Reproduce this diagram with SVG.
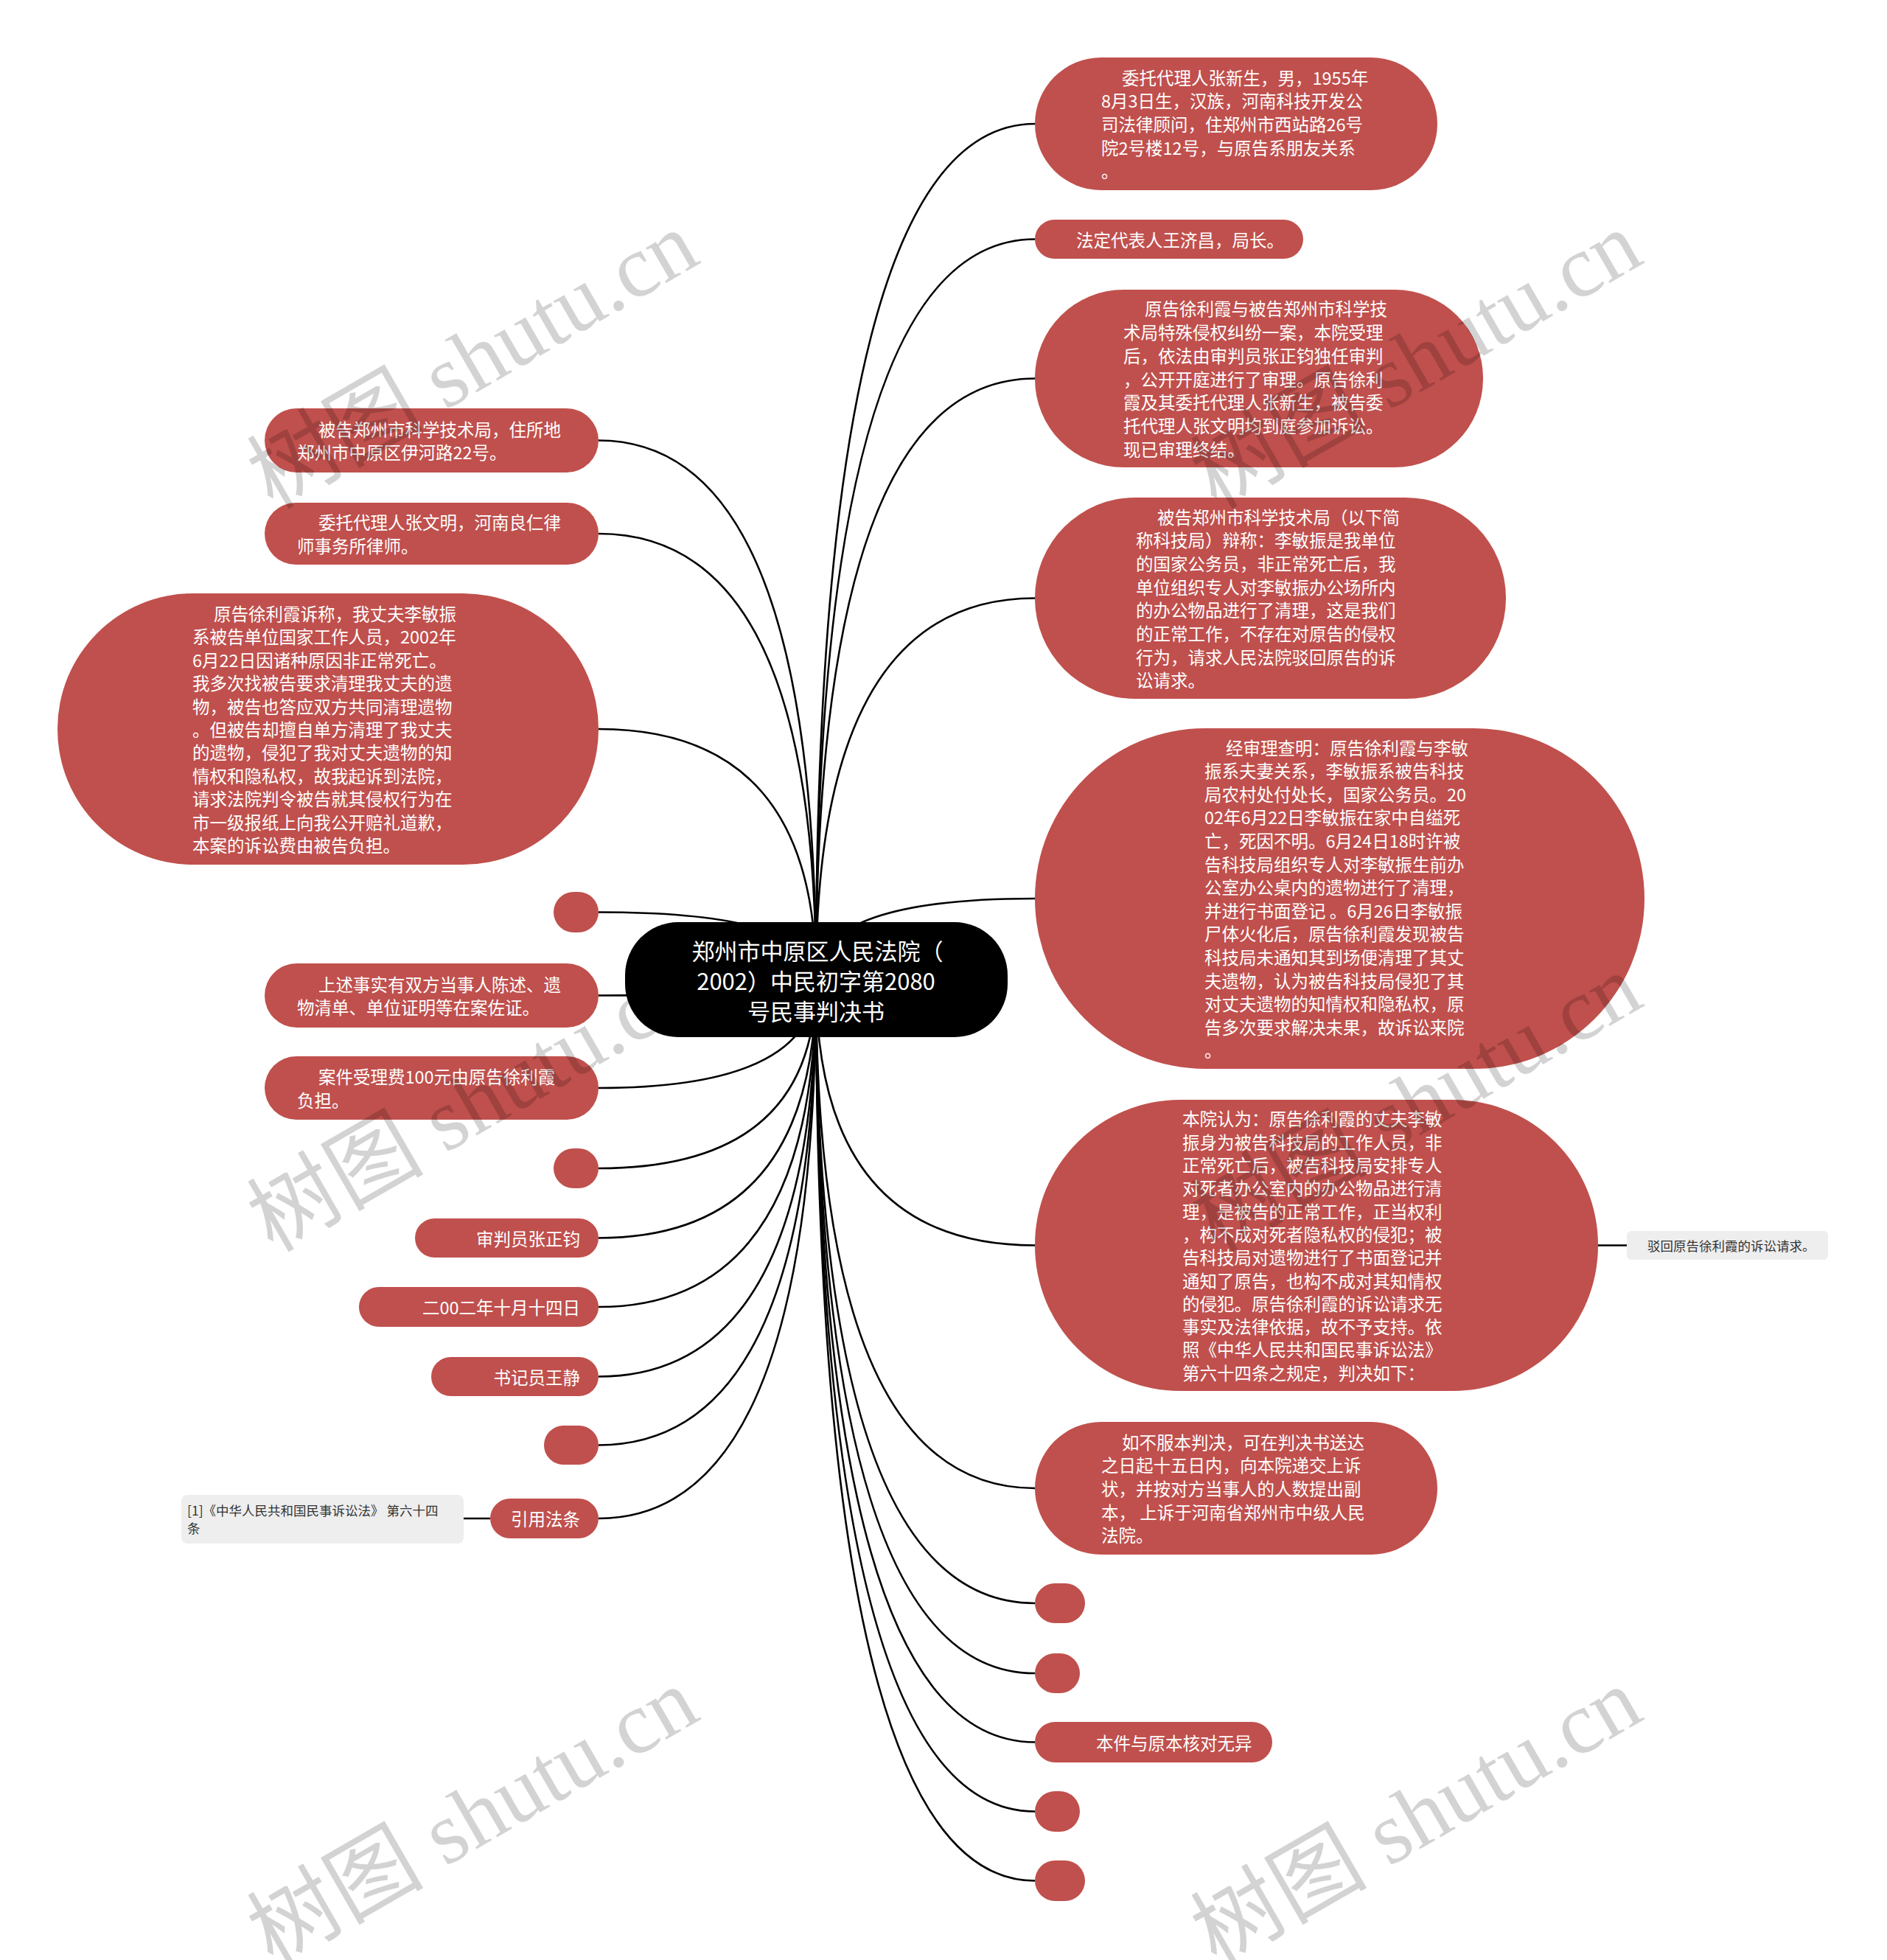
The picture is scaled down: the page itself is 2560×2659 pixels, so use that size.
<svg xmlns="http://www.w3.org/2000/svg" width="2560" height="2659" viewBox="0 0 2560 2659">
<style>
.n{fill:#c0504d}
.root{fill:#000}
.t{font-family:"Noto Sans CJK SC","Microsoft YaHei",sans-serif;font-size:23.5px;fill:#fff;dominant-baseline:central}
.e{text-anchor:end}
.rt{font-family:"Noto Sans CJK SC",sans-serif;font-size:31px;fill:#fff;text-anchor:middle;dominant-baseline:central}
.c{fill:none;stroke:#000;stroke-width:2.6}
.g{fill:#eeeeee}
.gt{font-family:"Noto Sans CJK SC",sans-serif;font-size:17.5px;fill:#333;dominant-baseline:central}
.wm{font-family:"Liberation Serif","Noto Sans CJK SC",serif;font-size:120px;fill:#000;opacity:0.17}
</style>
<rect width="2560" height="2659" fill="#fff"/>
<g id="connectors">
<path class="c" d="M1107 1329 Q1107 168 1404 168"/>
<path class="c" d="M1107 1329 Q1107 324.5 1404 324.5"/>
<path class="c" d="M1107 1329 Q1107 513.5 1404 513.5"/>
<path class="c" d="M1107 1329 Q1107 811.5 1404 811.5"/>
<path class="c" d="M1107 1329 Q1107 1219 1404 1219"/>
<path class="c" d="M1107 1329 Q1107 1689.5 1404 1689.5"/>
<path class="c" d="M1107 1329 Q1107 2019 1404 2019"/>
<path class="c" d="M1107 1329 Q1107 2175 1404 2175"/>
<path class="c" d="M1107 1329 Q1107 2270 1404 2270"/>
<path class="c" d="M1107 1329 Q1107 2363.5 1404 2363.5"/>
<path class="c" d="M1107 1329 Q1107 2457.5 1404 2457.5"/>
<path class="c" d="M1107 1329 Q1107 2551.5 1404 2551.5"/>
<path class="c" d="M1107 1329 Q1107 597.5 812 597.5"/>
<path class="c" d="M1107 1329 Q1107 724 812 724"/>
<path class="c" d="M1107 1329 Q1107 989 812 989"/>
<path class="c" d="M1107 1329 Q1107 1237.5 812 1237.5"/>
<path class="c" d="M1107 1329 Q1107 1350.5 812 1350.5"/>
<path class="c" d="M1107 1329 Q1107 1476 812 1476"/>
<path class="c" d="M1107 1329 Q1107 1585 812 1585"/>
<path class="c" d="M1107 1329 Q1107 1679.5 812 1679.5"/>
<path class="c" d="M1107 1329 Q1107 1773 812 1773"/>
<path class="c" d="M1107 1329 Q1107 1867.5 812 1867.5"/>
<path class="c" d="M1107 1329 Q1107 1960.5 812 1960.5"/>
<path class="c" d="M1107 1329 Q1107 2060 812 2060"/>
<path class="c" d="M2168 1689.5 L2207 1689.5"/>
<path class="c" d="M665 2060 L629 2060"/>
</g>
<g id="root">
<rect class="root" x="848" y="1251" width="519" height="156" rx="72"/>
<text class="rt" x="1109" y="1288">郑州市中原区人民法院（</text>
<text class="rt" x="1107" y="1329">2002）中民初字第2080</text>
<text class="rt" x="1107" y="1370">号民事判决书</text>
</g>
<g id="r1">
<rect class="n" x="1404" y="78" width="546" height="180" rx="90"/>
<text class="t"><tspan x="1522" y="104.6">委托代理人张新生，男，1955年</tspan><tspan x="1494" y="136.3">8月3日生，汉族，河南科技开发公</tspan><tspan x="1494" y="168">司法律顾问，住郑州市西站路26号</tspan><tspan x="1494" y="199.7">院2号楼12号，与原告系朋友关系</tspan><tspan x="1494" y="231.4">。</tspan></text>
</g>
<g id="r2">
<rect class="n" x="1404" y="298" width="364" height="53" rx="26.5"/>
<text class="t" x="1460" y="324.5">法定代表人王济昌，局长。</text>
</g>
<g id="r3">
<rect class="n" x="1404" y="393" width="608" height="241" rx="120"/>
<text class="t"><tspan x="1553" y="418.4">原告徐利霞与被告郑州市科学技</tspan><tspan x="1524" y="450.1">术局特殊侵权纠纷一案，本院受理</tspan><tspan x="1524" y="481.8">后，依法由审判员张正钧独任审判</tspan><tspan x="1524" y="513.5">，公开开庭进行了审理。原告徐利</tspan><tspan x="1524" y="545.2">霞及其委托代理人张新生，被告委</tspan><tspan x="1524" y="576.9">托代理人张文明均到庭参加诉讼。</tspan><tspan x="1524" y="608.6">现已审理终结。</tspan></text>
</g>
<g id="r4">
<rect class="n" x="1404" y="675" width="639" height="273" rx="136"/>
<text class="t"><tspan x="1570" y="700.5">被告郑州市科学技术局（以下简</tspan><tspan x="1541" y="732.2">称科技局）辩称：李敏振是我单位</tspan><tspan x="1541" y="763.9">的国家公务员，非正常死亡后，我</tspan><tspan x="1541" y="795.6">单位组织专人对李敏振办公场所内</tspan><tspan x="1541" y="827.3">的办公物品进行了清理，这是我们</tspan><tspan x="1541" y="859">的正常工作，不存在对原告的侵权</tspan><tspan x="1541" y="890.7">行为，请求人民法院驳回原告的诉</tspan><tspan x="1541" y="922.4">讼请求。</tspan></text>
</g>
<g id="r5">
<rect class="n" x="1404" y="988" width="827" height="462" rx="231"/>
<text class="t"><tspan x="1663" y="1013.6">经审理查明：原告徐利霞与李敏</tspan><tspan x="1634" y="1045.2">振系夫妻关系，李敏振系被告科技</tspan><tspan x="1634" y="1076.8">局农村处付处长，国家公务员。20</tspan><tspan x="1634" y="1108.4">02年6月22日李敏振在家中自缢死</tspan><tspan x="1634" y="1140">亡，死因不明。6月24日18时许被</tspan><tspan x="1634" y="1171.6">告科技局组织专人对李敏振生前办</tspan><tspan x="1634" y="1203.2">公室办公桌内的遗物进行了清理，</tspan><tspan x="1634" y="1234.8">并进行书面登记 。6月26日李敏振</tspan><tspan x="1634" y="1266.4">尸体火化后，原告徐利霞发现被告</tspan><tspan x="1634" y="1298">科技局未通知其到场便清理了其丈</tspan><tspan x="1634" y="1329.6">夫遗物，认为被告科技局侵犯了其</tspan><tspan x="1634" y="1361.2">对丈夫遗物的知情权和隐私权，原</tspan><tspan x="1634" y="1392.8">告多次要求解决未果，故诉讼来院</tspan><tspan x="1634" y="1424.4">。</tspan></text>
</g>
<g id="r6">
<rect class="n" x="1404" y="1492" width="764" height="395" rx="197"/>
<text class="t"><tspan x="1604" y="1517.4">本院认为：原告徐利霞的丈夫李敏</tspan><tspan x="1604" y="1548.7">振身为被告科技局的工作人员，非</tspan><tspan x="1604" y="1580">正常死亡后，被告科技局安排专人</tspan><tspan x="1604" y="1611.3">对死者办公室内的办公物品进行清</tspan><tspan x="1604" y="1642.6">理，是被告的正常工作，正当权利</tspan><tspan x="1604" y="1673.9">，构不成对死者隐私权的侵犯；被</tspan><tspan x="1604" y="1705.2">告科技局对遗物进行了书面登记并</tspan><tspan x="1604" y="1736.5">通知了原告，也构不成对其知情权</tspan><tspan x="1604" y="1767.8">的侵犯。原告徐利霞的诉讼请求无</tspan><tspan x="1604" y="1799.1">事实及法律依据，故不予支持。依</tspan><tspan x="1604" y="1830.4">照《中华人民共和国民事诉讼法》</tspan><tspan x="1604" y="1861.7">第六十四条之规定，判决如下：</tspan></text>
</g>
<g id="r6c">
<rect class="g" x="2207" y="1670" width="273" height="39" rx="6"/>
<text class="gt" x="2235" y="1689.5">驳回原告徐利霞的诉讼请求。</text>
</g>
<g id="r7">
<rect class="n" x="1404" y="1929" width="546" height="180" rx="90"/>
<text class="t"><tspan x="1522" y="1955.8">如不服本判决，可在判决书送达</tspan><tspan x="1494" y="1987.4">之日起十五日内，向本院递交上诉</tspan><tspan x="1494" y="2019">状，并按对方当事人的人数提出副</tspan><tspan x="1494" y="2050.6">本， 上诉于河南省郑州市中级人民</tspan><tspan x="1494" y="2082.2">法院。</tspan></text>
</g>
<g id="r8"><rect class="n" x="1404" y="2148" width="68" height="54" rx="27"/></g>
<g id="r9"><rect class="n" x="1404" y="2243" width="61" height="54" rx="27"/></g>
<g id="r10">
<rect class="n" x="1404" y="2336" width="322" height="55" rx="27.5"/>
<text class="t" x="1487" y="2363.5">本件与原本核对无异</text>
</g>
<g id="r11"><rect class="n" x="1404" y="2430" width="61" height="55" rx="27.5"/></g>
<g id="r12"><rect class="n" x="1404" y="2524" width="68" height="55" rx="27.5"/></g>
<g id="l1">
<rect class="n" x="359" y="554" width="453" height="87" rx="43.5"/>
<text class="t"><tspan x="432" y="581.7">被告郑州市科学技术局，住所地</tspan><tspan x="403" y="613.3">郑州市中原区伊河路22号。</tspan></text>
</g>
<g id="l2">
<rect class="n" x="359" y="682" width="453" height="84" rx="42"/>
<text class="t"><tspan x="432" y="708.2">委托代理人张文明，河南良仁律</tspan><tspan x="403" y="739.8">师事务所律师。</tspan></text>
</g>
<g id="l3">
<rect class="n" x="78" y="805" width="734" height="368" rx="184"/>
<text class="t"><tspan x="290" y="832">原告徐利霞诉称，我丈夫李敏振</tspan><tspan x="261" y="863.4">系被告单位国家工作人员，2002年</tspan><tspan x="261" y="894.8">6月22日因诸种原因非正常死亡。</tspan><tspan x="261" y="926.2">我多次找被告要求清理我丈夫的遗</tspan><tspan x="261" y="957.6">物，被告也答应双方共同清理遗物</tspan><tspan x="261" y="989">。但被告却擅自单方清理了我丈夫</tspan><tspan x="261" y="1020.4">的遗物，侵犯了我对丈夫遗物的知</tspan><tspan x="261" y="1051.8">情权和隐私权，故我起诉到法院，</tspan><tspan x="261" y="1083.2">请求法院判令被告就其侵权行为在</tspan><tspan x="261" y="1114.6">市一级报纸上向我公开赔礼道歉，</tspan><tspan x="261" y="1146">本案的诉讼费由被告负担。</tspan></text>
</g>
<g id="l4"><rect class="n" x="751" y="1210" width="61" height="55" rx="27.5"/></g>
<g id="l5">
<rect class="n" x="359" y="1307" width="453" height="87" rx="43.5"/>
<text class="t"><tspan x="432" y="1334.7">上述事实有双方当事人陈述、遗</tspan><tspan x="403" y="1366.3">物清单、单位证明等在案佐证。</tspan></text>
</g>
<g id="l6">
<rect class="n" x="359" y="1433" width="453" height="86" rx="43"/>
<text class="t"><tspan x="432" y="1460.2">案件受理费100元由原告徐利霞</tspan><tspan x="403" y="1491.8">负担。</tspan></text>
</g>
<g id="l7"><rect class="n" x="751" y="1558" width="61" height="54" rx="27"/></g>
<g id="l8">
<rect class="n" x="563" y="1653" width="249" height="53" rx="26.5"/>
<text class="t e" x="787" y="1679.5">审判员张正钧</text>
</g>
<g id="l9">
<rect class="n" x="487" y="1746" width="325" height="54" rx="27"/>
<text class="t e" x="787" y="1773">二00二年十月十四日</text>
</g>
<g id="l10">
<rect class="n" x="585" y="1841" width="227" height="53" rx="26.5"/>
<text class="t e" x="787" y="1867.5">书记员王静</text>
</g>
<g id="l11"><rect class="n" x="738" y="1934" width="74" height="53" rx="26.5"/></g>
<g id="l12">
<rect class="n" x="665" y="2033" width="147" height="54" rx="27"/>
<text class="t e" x="787" y="2060">引用法条</text>
</g>
<g id="l12c">
<rect class="g" x="246" y="2028" width="383" height="66" rx="8"/>
<text class="gt"><tspan x="254" y="2048">[1]《中华人民共和国民事诉讼法》 第六十四</tspan><tspan x="254" y="2072">条</tspan></text>
</g>
<g id="watermarks">
<text class="wm" transform="translate(370 692) rotate(-30)">树图 shutu.cn</text>
<text class="wm" transform="translate(1650 692) rotate(-30)">树图 shutu.cn</text>
<text class="wm" transform="translate(370 1700) rotate(-30)">树图 shutu.cn</text>
<text class="wm" transform="translate(1650 1700) rotate(-30)">树图 shutu.cn</text>
<text class="wm" transform="translate(370 2668) rotate(-30)">树图 shutu.cn</text>
<text class="wm" transform="translate(1650 2668) rotate(-30)">树图 shutu.cn</text>
</g>
</svg>
